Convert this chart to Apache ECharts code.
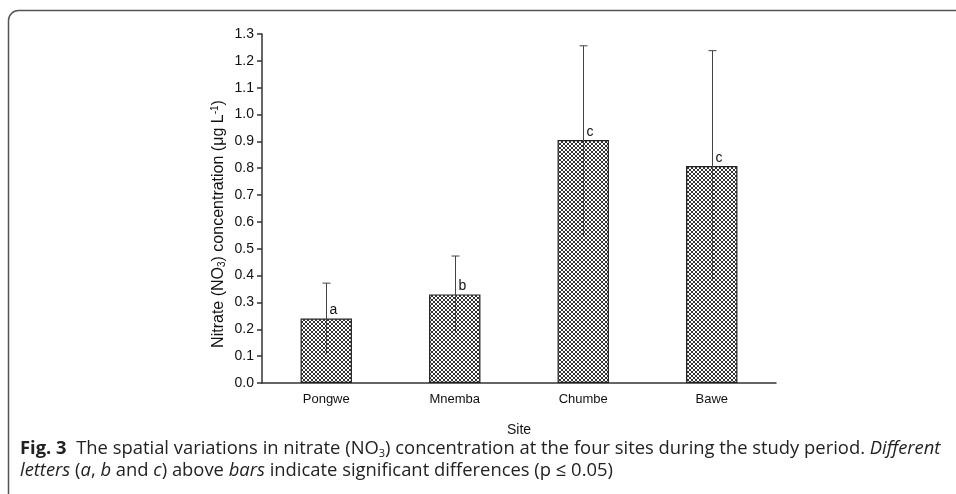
<!DOCTYPE html>
<html>
<head>
<meta charset="utf-8">
<script src="https://cdn.jsdelivr.net/npm/echarts@6/dist/echarts.min.js"></script>
<style>
html,body{margin:0;padding:0;background:#fff;}
#chart{width:956px;height:494px;}
</style>
</head>
<body>
<div id="chart"></div>
<script>
const categories = ['Pongwe', 'Mnemba', 'Chumbe', 'Bawe'];
const means = [0.24, 0.33, 0.905, 0.808];
const errLow = [0.105, 0.19, 0.55, 0.38];
const errHigh = [0.372, 0.473, 1.256, 1.238];
const letters = ['a', 'b', 'c', 'c'];

function makePattern() {
  const c = document.createElement('canvas');
  c.width = 4; c.height = 4;
  const ctx = c.getContext('2d');
  ctx.fillStyle = '#ffffff';
  ctx.fillRect(0, 0, 4, 4);
  ctx.fillStyle = '#333333';
  for (let i = 0; i < 4; i++) {
    ctx.fillRect(i, i, 1, 1);
    ctx.fillRect(3 - i, i, 1, 1);
  }
  return c;
}

const chart = echarts.init(document.getElementById('chart'), null, {renderer: 'canvas'});
const font = 'Liberation Sans';
const capFont = 'Open Sans';

const option = {
  animation: false,
  backgroundColor: '#fff',
  grid: {left: 262, right: 180, top: 34, bottom: 111, containLabel: false},
  xAxis: [{
    type: 'category',
    data: categories,
    axisLine: {lineStyle: {color: '#333', width: 1.5}},
    axisTick: {alignWithLabel: true, length: 5, lineStyle: {color: '#333', width: 1.5}},
    axisLabel: {color: '#111', fontFamily: font, fontSize: 13, margin: 10},
    name: 'Site',
    nameLocation: 'middle',
    nameGap: 40,
    nameTextStyle: {color: '#111', fontFamily: font, fontSize: 14}
  }, {
    type: 'category',
    data: categories,
    position: 'bottom',
    axisLine: {show: false},
    axisTick: {alignWithLabel: false, length: 3, lineStyle: {color: '#333', width: 1.5}},
    axisLabel: {show: false}
  }],
  yAxis: {
    type: 'value',
    min: 0, max: 1.3, interval: 0.1,
    splitLine: {show: false},
    axisLine: {show: true, lineStyle: {color: '#333', width: 1.5}},
    axisTick: {show: true, length: 5, lineStyle: {color: '#333', width: 1.5}},
    axisLabel: {color: '#111', fontFamily: font, fontSize: 14, margin: 8,
      formatter: v => v.toFixed(1)}
  },
  series: [{
    type: 'bar',
    data: means,
    barWidth: '40%',
    itemStyle: {
      color: {image: makePattern(), repeat: 'repeat'},
      borderColor: '#222',
      borderWidth: 1.2
    }
  }, {
    type: 'custom',
    data: categories.map((c, i) => [i, errLow[i], errHigh[i], means[i]]),
    renderItem: function (params, api) {
      const i = api.value(0);
      const lo = api.coord([i, api.value(1)]);
      const hi = api.coord([i, api.value(2)]);
      const top = api.coord([i, api.value(3)]);
      const x = Math.round(lo[0]) + 0.5;
      return {
        type: 'group',
        children: [{
          type: 'line',
          shape: {x1: x, y1: lo[1], x2: x, y2: hi[1]},
          style: {stroke: '#444', lineWidth: 1}
        }, {
          type: 'line',
          shape: {x1: x - 4, y1: hi[1], x2: x + 4, y2: hi[1]},
          style: {stroke: '#444', lineWidth: 1}
        }, {
          type: 'text',
          style: {
            text: letters[i], x: x + 3, y: top[1] - 1,
            textAlign: 'left', textVerticalAlign: 'bottom',
            font: '14px ' + font, fill: '#111'
          }
        }]
      };
    },
    z: 5
  }],
  graphic: [{
    type: 'rect',
    shape: {x: 8.5, y: 10.5, width: 1200, height: 1000, r: 10},
    style: {fill: 'none', stroke: '#555', lineWidth: 1.5},
    silent: true
  }, {
    type: 'text',
    x: 219, y: 224,
    rotation: Math.PI / 2,
    style: {
      text: '{n|Nitrate (NO}{s|3}{n|) concentration (μg L}{p|-1}{n|)}',
      align: 'center', verticalAlign: 'middle',
      rich: {
        n: {fontFamily: font, fontSize: 16, fill: '#111'},
        s: {fontFamily: font, fontSize: 10, fill: '#111', verticalAlign: 'bottom', padding: [7, 0, 0, 0]},
        p: {fontFamily: font, fontSize: 10, fill: '#111', verticalAlign: 'top', padding: [0, 0, 7, 0]}
      }
    }
  }, {
    type: 'text',
    left: 20, top: 440,
    style: {
      text: '{b|Fig. 3}{n|  The spatial variations in nitrate (NO}{s|3}{n|) concentration at the four sites during the study period. }{i|Different}',
      rich: {
        b: {fontFamily: capFont, fontWeight: 'bold', fontSize: 18.4, fill: '#222'},
        n: {fontFamily: capFont, fontSize: 18.4, fill: '#222'},
        i: {fontFamily: capFont, fontStyle: 'italic', fontSize: 18.4, fill: '#222'},
        s: {fontFamily: capFont, fontSize: 11, fill: '#222', verticalAlign: 'bottom', padding: [9, 0, 0, 0]}
      }
    }
  }, {
    type: 'text',
    left: 20, top: 462,
    style: {
      text: '{i|letters}{n| (}{i|a}{n|, }{i|b}{n| and }{i|c}{n|) above }{i|bars}{n| indicate significant differences (p ≤ 0.05)}',
      rich: {
        n: {fontFamily: capFont, fontSize: 18.4, fill: '#222'},
        i: {fontFamily: capFont, fontStyle: 'italic', fontSize: 18.4, fill: '#222'}
      }
    }
  }]
};
chart.setOption(option);
</script>
</body>
</html>
